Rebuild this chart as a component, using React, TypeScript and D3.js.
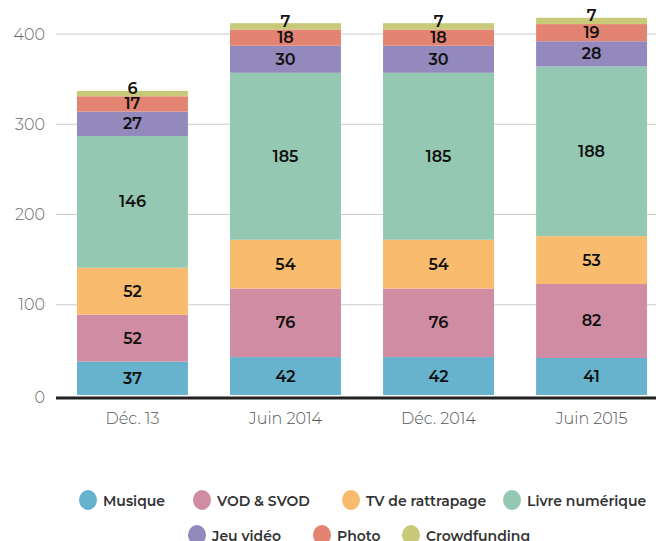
import React from "react";
import * as d3 from "d3";

const categories = ["Déc. 13", "Juin 2014", "Déc. 2014", "Juin 2015"];
const seriesNames = ["Musique", "VOD & SVOD", "TV de rattrapage", "Livre numérique", "Jeu vidéo", "Photo", "Crowdfunding"];
const musique = [37, 42, 42, 41];
const vod = [52, 76, 76, 82];
const tv = [52, 54, 54, 53];
const livre = [146, 185, 185, 188];
const jeu = [27, 30, 30, 28];
const photo = [17, 18, 18, 19];
const crowd = [6, 7, 7, 7];
const colors = ["#67b3cd", "#d08ca2", "#f9bc6e", "#95c8b2", "#9489bd", "#e38472", "#c9c97a"];
const yTicks = [0, 100, 200, 300, 400];

const W = 656, H = 541;
const left = 56, right = 656, zeroY = 395, topY = 34;

export default function App() {
  const series = [musique, vod, tv, livre, jeu, photo, crowd];
  const rows = categories.map((c, i) => {
    const r: any = { cat: c };
    seriesNames.forEach((s, k) => (r[s] = series[k][i]));
    return r;
  });
  const stacked = d3.stack<any>().keys(seriesNames)(rows);
  const x = d3.scaleBand().domain(categories).range([left, left + 4 * 153]).paddingInner(0.275).paddingOuter(0.137);
  const y = d3.scaleLinear().domain([0, 400]).range([zeroY, topY]);
  const font = "Montserrat, 'Open Sans', Lato, sans-serif";

  const legend1 = [
    { i: 0, cx: 88 }, { i: 1, cx: 202 }, { i: 2, cx: 351 }, { i: 3, cx: 512 },
  ];
  const legend2 = [{ i: 4, cx: 197 }, { i: 5, cx: 322 }, { i: 6, cx: 411 }];

  return (
    <svg width={W} height={H} style={{ position: "fixed", left: 0, top: 0 }} fontFamily={font}>
      <rect width={W} height={H} fill="#fff" />
      {yTicks.filter((t) => t > 0).map((t) => (
        <line key={t} x1={left} x2={right} y1={y(t)} y2={y(t)} stroke="#cccccc" strokeWidth={1} />
      ))}
      {yTicks.map((t) => (
        <text key={t} x={45} y={y(t) + (t === 0 ? 2 : 0)} textAnchor="end" dominantBaseline="central" fontSize={16} fontWeight={300} fill="#666">
          {t}
        </text>
      ))}
      {stacked.map((s, k) => (
        <g key={k}>
          {s.map((d, i) => (
            <rect key={i} x={x(categories[i])} width={x.bandwidth()} y={y(d[1])} height={y(d[0]) - y(d[1])} fill={colors[k]} />
          ))}
        </g>
      ))}
      {stacked.map((s, k) => (
        <g key={"l" + k}>
          {s.map((d, i) => (
            <text key={i} x={(x(categories[i]) as number) + x.bandwidth() / 2} y={(y(d[0]) + y(d[1])) / 2 - (k === 6 ? 5 : 0)}
              textAnchor="middle" dominantBaseline="central" fontSize={16} fontWeight={600} fill="#111">
              {d[1] - d[0]}
            </text>
          ))}
        </g>
      ))}
      <line x1={left} x2={right} y1={398} y2={398} stroke="#222" strokeWidth={3} />
      {categories.map((c) => (
        <text key={c} x={(x(c) as number) + x.bandwidth() / 2} y={418} textAnchor="middle" dominantBaseline="central" fontSize={16} fontWeight={300} fill="#555">
          {c}
        </text>
      ))}
      {legend1.map(({ i, cx }) => (
        <g key={i}>
          <ellipse cx={cx} cy={500} rx={9} ry={10} fill={colors[i]} />
          <text x={cx + 15} y={501} dominantBaseline="central" fontSize={14} fontWeight={600} fill="#333">{seriesNames[i]}</text>
        </g>
      ))}
      {legend2.map(({ i, cx }) => (
        <g key={i}>
          <ellipse cx={cx} cy={535} rx={9} ry={10} fill={colors[i]} />
          <text x={cx + 15} y={536} dominantBaseline="central" fontSize={14} fontWeight={600} fill="#333">{seriesNames[i]}</text>
        </g>
      ))}
    </svg>
  );
}
